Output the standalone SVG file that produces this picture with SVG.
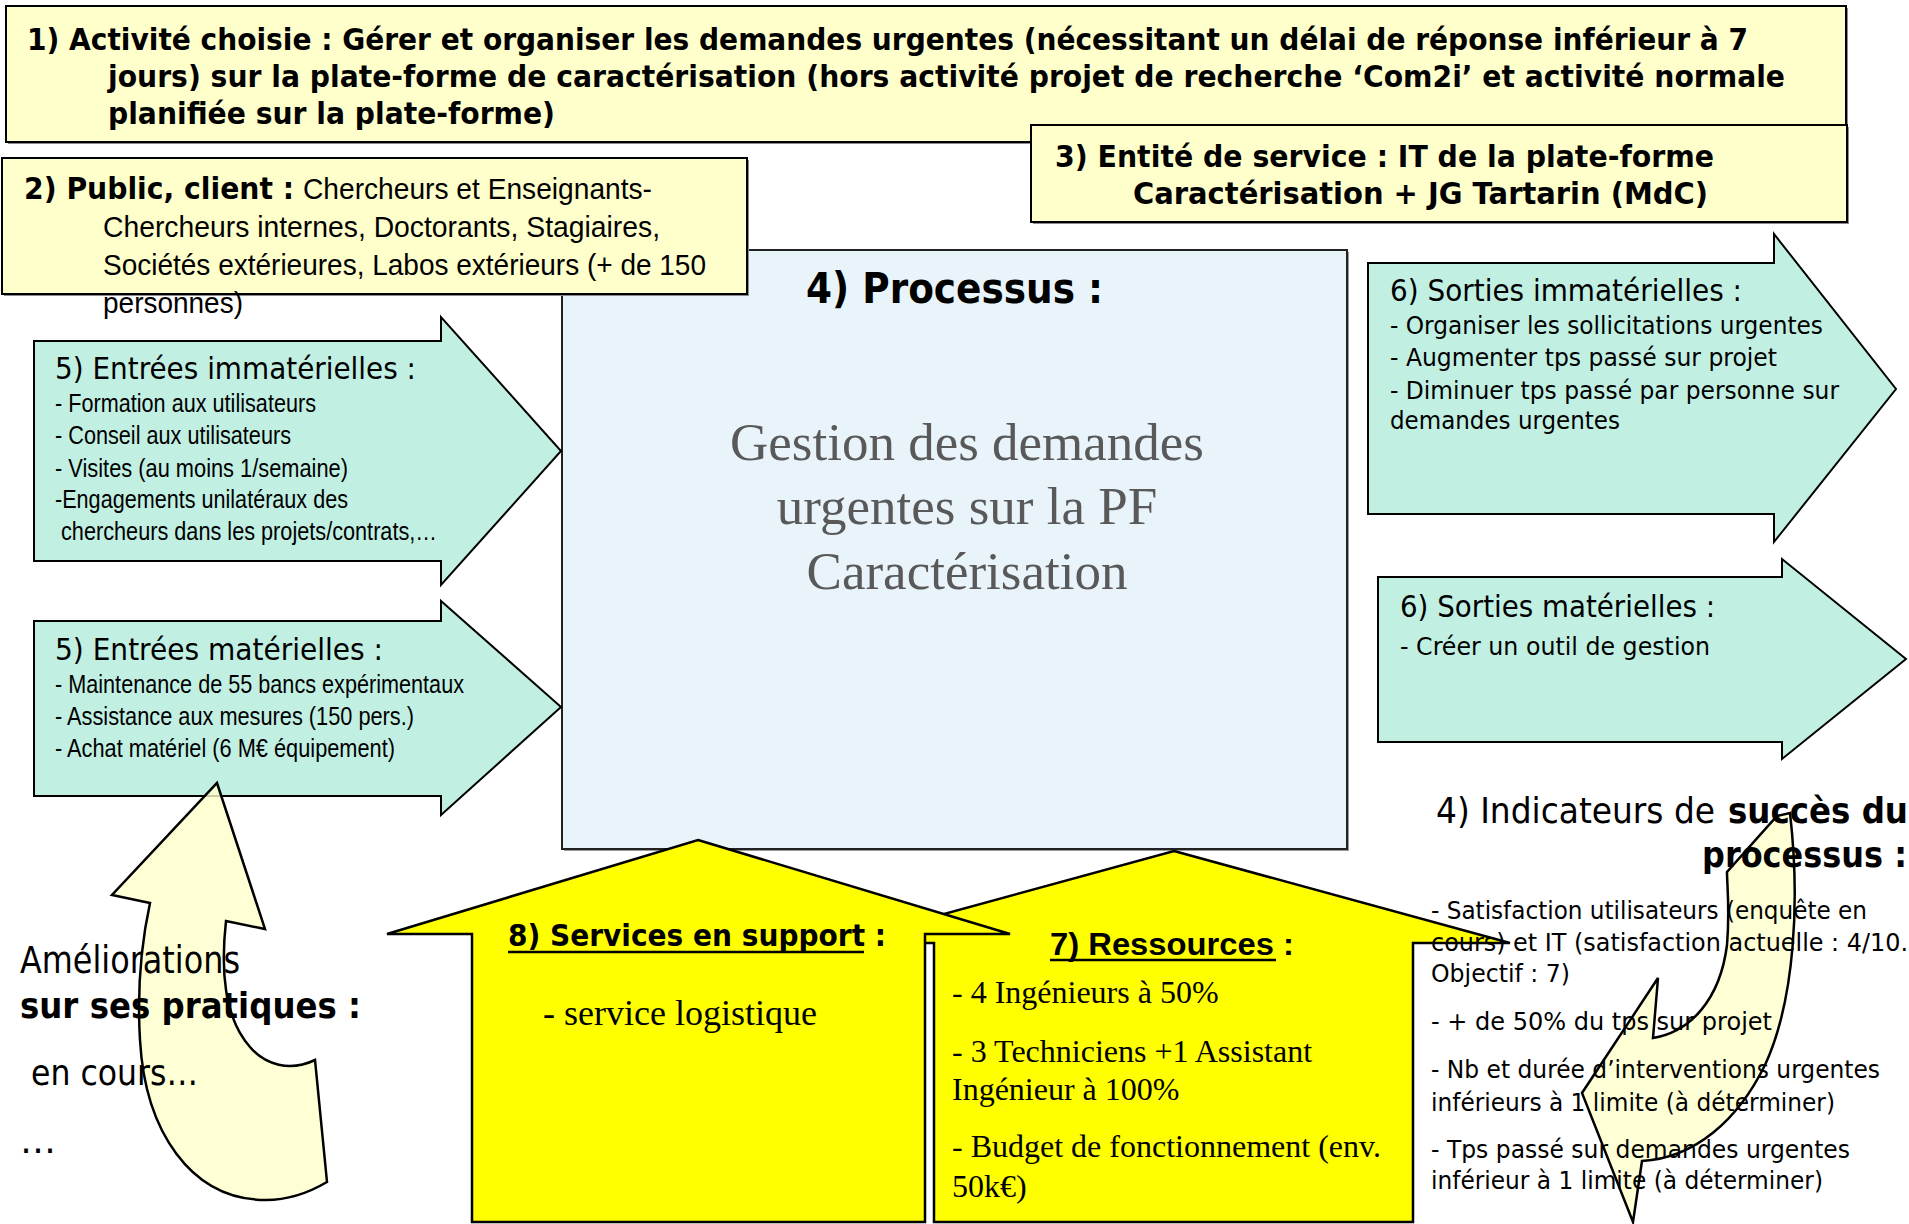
<svg xmlns="http://www.w3.org/2000/svg" width="1909" height="1224" viewBox="0 0 1909 1224">
<defs>
<style>
.ybox{fill:#FFFFCC;stroke:#000;stroke-width:2}
.shadow{fill:#8c8c8c}
.green{fill:#C1F0E3;stroke:#000;stroke-width:2;stroke-linejoin:miter}
.yel{fill:#FFFF00;stroke:#000;stroke-width:2.5;stroke-linejoin:miter}
.curl{fill:#FFFFCC;fill-opacity:0.8;stroke:#000;stroke-width:2.5;stroke-linejoin:miter}
.tb{font-family:"DejaVu Sans","Liberation Sans",sans-serif;font-weight:bold;fill:#000}
.t{font-family:"DejaVu Sans","Liberation Sans",sans-serif;fill:#000}
.n{font-family:"Liberation Sans Narrow","Liberation Sans",sans-serif;fill:#000}
.s{font-family:"Liberation Serif",serif;fill:#000}
.ab{font-family:"Liberation Sans",Arial,sans-serif;font-weight:bold;fill:#000}
</style>
</defs>
<rect width="1909" height="1224" fill="#fff"/>

<g id="activite">
<rect class="shadow" x="8" y="8" width="1840" height="136"/>
<rect class="ybox" x="6" y="6" width="1840" height="136"/>
<text class="tb" x="27" y="50" font-size="31" textLength="1721" lengthAdjust="spacingAndGlyphs">1) Activité choisie : Gérer et organiser les demandes urgentes (nécessitant un délai de réponse inférieur à 7</text>
<text class="tb" x="108" y="87" font-size="31" textLength="1677" lengthAdjust="spacingAndGlyphs">jours) sur la plate-forme de caractérisation (hors activité projet de recherche ‘Com2i’ et activité normale</text>
<text class="tb" x="108" y="124" font-size="31" textLength="447" lengthAdjust="spacingAndGlyphs">planifiée sur la plate-forme)</text>
</g>

<g id="entite">
<rect class="shadow" x="1033" y="127" width="816" height="97"/>
<rect class="ybox" x="1031" y="125" width="816" height="97"/>
<text class="tb" x="1055" y="167" font-size="31" textLength="659" lengthAdjust="spacingAndGlyphs">3) Entité de service : IT de la plate-forme</text>
<text class="tb" x="1133" y="204" font-size="31" textLength="575" lengthAdjust="spacingAndGlyphs">Caractérisation + JG Tartarin (MdC)</text>
</g>

<g id="processus">
<rect x="564" y="252" width="785" height="599" fill="#9a9a9a"/>
<rect x="562" y="250" width="785" height="599" fill="#E8F4FA" stroke="#222" stroke-width="2"/>
<text class="tb" x="806" y="303" font-size="42" textLength="297" lengthAdjust="spacingAndGlyphs">4) Processus :</text>
<g class="s" font-size="53" text-anchor="middle">
<text x="967" y="460" fill="#595959">Gestion des demandes</text>
<text x="967" y="524" fill="#595959">urgentes sur la PF</text>
<text x="967" y="589" fill="#595959">Caractérisation</text>
</g>
</g>

<g id="public">
<rect class="shadow" x="4" y="160" width="745" height="136"/>
<rect class="ybox" x="2" y="158" width="745" height="136"/>
<text class="tb" x="24" y="199" font-size="31" textLength="270" lengthAdjust="spacingAndGlyphs">2) Public, client :</text>
<text class="n" x="303" y="199" font-size="30" textLength="349" lengthAdjust="spacingAndGlyphs">Chercheurs et Enseignants-</text>
<text class="n" x="103" y="237" font-size="30" textLength="557" lengthAdjust="spacingAndGlyphs">Chercheurs internes, Doctorants, Stagiaires,</text>
<text class="n" x="103" y="275" font-size="30" textLength="603" lengthAdjust="spacingAndGlyphs">Sociétés extérieures, Labos extérieurs (+ de 150</text>
<text class="n" x="103" y="313" font-size="30" textLength="140" lengthAdjust="spacingAndGlyphs">personnes)</text>
</g>

<g id="entrees-immaterielles">
<path class="green" d="M34,341 L441,341 L441,317 L561,451 L441,585 L441,561 L34,561 Z"/>
<text class="t" x="55" y="379" font-size="31" textLength="361" lengthAdjust="spacingAndGlyphs">5) Entrées immatérielles :</text>
<text class="n" x="55" y="412" font-size="26" textLength="261" lengthAdjust="spacingAndGlyphs">- Formation aux utilisateurs</text>
<text class="n" x="55" y="444" font-size="26" textLength="236" lengthAdjust="spacingAndGlyphs">- Conseil aux utilisateurs</text>
<text class="n" x="55" y="477" font-size="26" textLength="293" lengthAdjust="spacingAndGlyphs">- Visites (au moins 1/semaine)</text>
<text class="n" x="55" y="508" font-size="26" textLength="293" lengthAdjust="spacingAndGlyphs">-Engagements unilatéraux des</text>
<text class="n" x="61" y="540" font-size="26" textLength="376" lengthAdjust="spacingAndGlyphs">chercheurs dans les projets/contrats,…</text>
</g>

<g id="entrees-materielles">
<path class="green" d="M34,621 L441,621 L441,601 L561,707 L441,815 L441,796 L34,796 Z"/>
<text class="t" x="55" y="660" font-size="31" textLength="328" lengthAdjust="spacingAndGlyphs">5) Entrées matérielles :</text>
<text class="n" x="55" y="693" font-size="26" textLength="409" lengthAdjust="spacingAndGlyphs">- Maintenance de 55 bancs expérimentaux</text>
<text class="n" x="55" y="725" font-size="26" textLength="359" lengthAdjust="spacingAndGlyphs">- Assistance aux mesures (150 pers.)</text>
<text class="n" x="55" y="757" font-size="26" textLength="340" lengthAdjust="spacingAndGlyphs">- Achat matériel (6 M€ équipement)</text>
</g>

<g id="sorties-immaterielles">
<path class="green" d="M1368,263 L1774,263 L1774,234 L1896,389 L1774,542 L1774,514 L1368,514 Z"/>
<text class="t" x="1390" y="301" font-size="31" textLength="352" lengthAdjust="spacingAndGlyphs">6) Sorties immatérielles :</text>
<text class="t" x="1390" y="334" font-size="25" textLength="433" lengthAdjust="spacingAndGlyphs">- Organiser les sollicitations urgentes</text>
<text class="t" x="1390" y="366" font-size="25" textLength="387" lengthAdjust="spacingAndGlyphs">- Augmenter tps passé sur projet</text>
<text class="t" x="1390" y="399" font-size="25" textLength="449" lengthAdjust="spacingAndGlyphs">- Diminuer tps passé par personne sur</text>
<text class="t" x="1390" y="429" font-size="25" textLength="230" lengthAdjust="spacingAndGlyphs">demandes urgentes</text>
</g>

<g id="sorties-materielles">
<path class="green" d="M1378,577 L1782,577 L1782,559 L1906,659 L1782,759 L1782,742 L1378,742 Z"/>
<text class="t" x="1400" y="617" font-size="31" textLength="315" lengthAdjust="spacingAndGlyphs">6) Sorties matérielles :</text>
<text class="t" x="1400" y="655" font-size="25" textLength="310" lengthAdjust="spacingAndGlyphs">- Créer un outil de gestion</text>
</g>

<g id="ressources">
<path class="yel" d="M1174,851 L1510,943 L1413,943 L1413,1222 L934,1222 L934,943 L838,943 Z"/>
<text class="ab" x="1050" y="955" font-size="32" textLength="244" lengthAdjust="spacingAndGlyphs">7) Ressources :</text>
<line x1="1050" y1="960" x2="1276" y2="960" stroke="#000" stroke-width="2.5"/>
<text class="s" x="952" y="1003" font-size="32">- 4 Ingénieurs à 50%</text>
<text class="s" x="952" y="1062" font-size="32">- 3 Techniciens +1 Assistant</text>
<text class="s" x="952" y="1100" font-size="32">Ingénieur à 100%</text>
<text class="s" x="952" y="1157" font-size="32">- Budget de fonctionnement (env.</text>
<text class="s" x="952" y="1197" font-size="32">50k€)</text>
</g>

<g id="services-support">
<path class="yel" d="M698,840 L1010,934 L925,934 L925,1222 L472,1222 L472,934 L387,934 Z"/>
<text class="tb" x="508" y="946" font-size="31" textLength="378" lengthAdjust="spacingAndGlyphs">8) Services en support :</text>
<line x1="508" y1="952" x2="864" y2="952" stroke="#000" stroke-width="2.5"/>
<text class="s" x="543" y="1025" font-size="36">- service logistique</text>
</g>

<g id="connectors">
<path class="curl" d="M217,783 L265,929 L226,921 C 220,975 226,1020 250,1047 C 265,1065 290,1072 315,1060 L327,1182 C 305,1195 285,1200 266,1200 C 190,1200 145,1130 140,1040 C 137,990 142,940 150,903 L112,895 Z"/>
<path class="curl" d="M1777,816 L1790,813 C 1800,900 1795,1000 1765,1065 C 1738,1120 1695,1158 1642,1161 L1633,1222 L1582,1093 L1658,978 L1653,1038 C 1690,1032 1720,1000 1727,945 C 1730,910 1727,885 1727,872 Z"/>
</g>

<g id="ameliorations">
<text class="t" x="20" y="973" font-size="37" textLength="220" lengthAdjust="spacingAndGlyphs">Améliorations</text>
<text class="tb" x="20" y="1018" font-size="36" textLength="341" lengthAdjust="spacingAndGlyphs">sur ses pratiques :</text>
<text class="t" x="31" y="1085" font-size="36" textLength="167" lengthAdjust="spacingAndGlyphs">en cours…</text>
<text class="t" x="20" y="1153" font-size="36">…</text>
</g>

<g id="indicateurs">
<text class="t" x="1436" y="823" font-size="36" textLength="279" lengthAdjust="spacingAndGlyphs">4) Indicateurs de</text>
<text class="tb" x="1728" y="823" font-size="36" textLength="180" lengthAdjust="spacingAndGlyphs">succès du</text>
<text class="tb" x="1702" y="867" font-size="36" textLength="205" lengthAdjust="spacingAndGlyphs">processus :</text>
<text class="t" x="1431" y="919" font-size="25" textLength="436" lengthAdjust="spacingAndGlyphs">- Satisfaction utilisateurs (enquête en</text>
<text class="t" x="1431" y="951" font-size="25" textLength="477" lengthAdjust="spacingAndGlyphs">cours) et IT (satisfaction actuelle : 4/10.</text>
<text class="t" x="1431" y="982" font-size="25" textLength="139" lengthAdjust="spacingAndGlyphs">Objectif : 7)</text>
<text class="t" x="1431" y="1030" font-size="25" textLength="341" lengthAdjust="spacingAndGlyphs">- + de 50% du tps sur projet</text>
<text class="t" x="1431" y="1078" font-size="25" textLength="449" lengthAdjust="spacingAndGlyphs">- Nb et durée d’interventions urgentes</text>
<text class="t" x="1431" y="1111" font-size="25" textLength="404" lengthAdjust="spacingAndGlyphs">inférieurs à 1 limite (à déterminer)</text>
<text class="t" x="1431" y="1158" font-size="25" textLength="419" lengthAdjust="spacingAndGlyphs">- Tps passé sur demandes urgentes</text>
<text class="t" x="1431" y="1189" font-size="25" textLength="392" lengthAdjust="spacingAndGlyphs">inférieur à 1 limite (à déterminer)</text>
</g>
</svg>
